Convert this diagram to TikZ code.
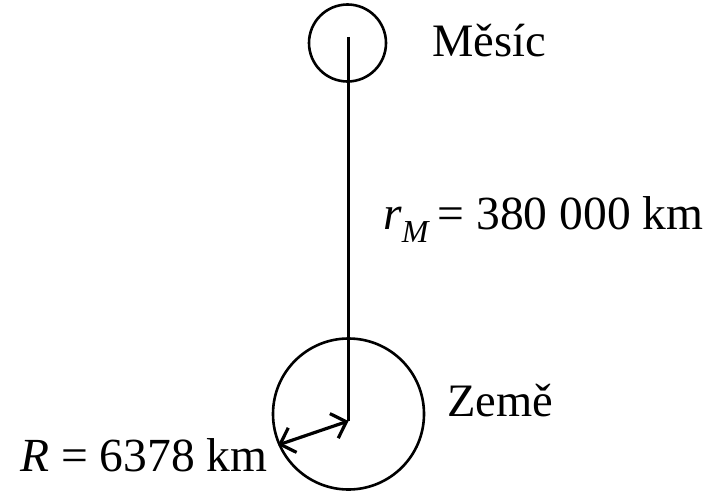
\documentclass[tikz,border=0pt]{standalone}
\usepackage{fontspec}
\setmainfont{Liberation Serif}
\usetikzlibrary{arrows.meta}
\begin{document}
\begin{tikzpicture}[x=1pt,y=-1pt,
  body/.style={draw,circle,line width=2.6pt,inner sep=0pt},
  lbl/.style={anchor=base west,inner sep=0pt,font=\fontsize{46.5}{54}\selectfont},
  eq/.style={anchor=base west,inner sep=0pt,font=\fontsize{47.5}{56}\selectfont},
  rad/.style={line width=3.2pt,{Straight Barb[length=13pt,width=26pt]}-{Straight Barb[length=13pt,width=26pt]}}]
\useasboundingbox (0,0) rectangle (719,492);
\node[body,minimum size=77pt] (moon) at (347.5,43) {};
\node[body,minimum size=151pt] (earth) at (348.5,414) {};
\coordinate (mc) at (348.5,37);
\coordinate (ec) at (348.5,421);
\coordinate (rim) at (278,445);
\draw[line width=3.4pt] (mc) -- (ec);
\draw[rad] (rim) -- (ec);
\node[lbl] (mtxt) at (432,57) {Měsíc};
\node[lbl] (etxt) at (447,416) {Země};
\node[eq] (rm) at (383,229) {\textit{r}\raisebox{-0.28em}{\fontsize{32}{38}\selectfont\textit{M}}\,= 380 000 km};
\node[eq] (rr) at (20,471) {\textit{R} = 6378 km};
\end{tikzpicture}
\end{document}
